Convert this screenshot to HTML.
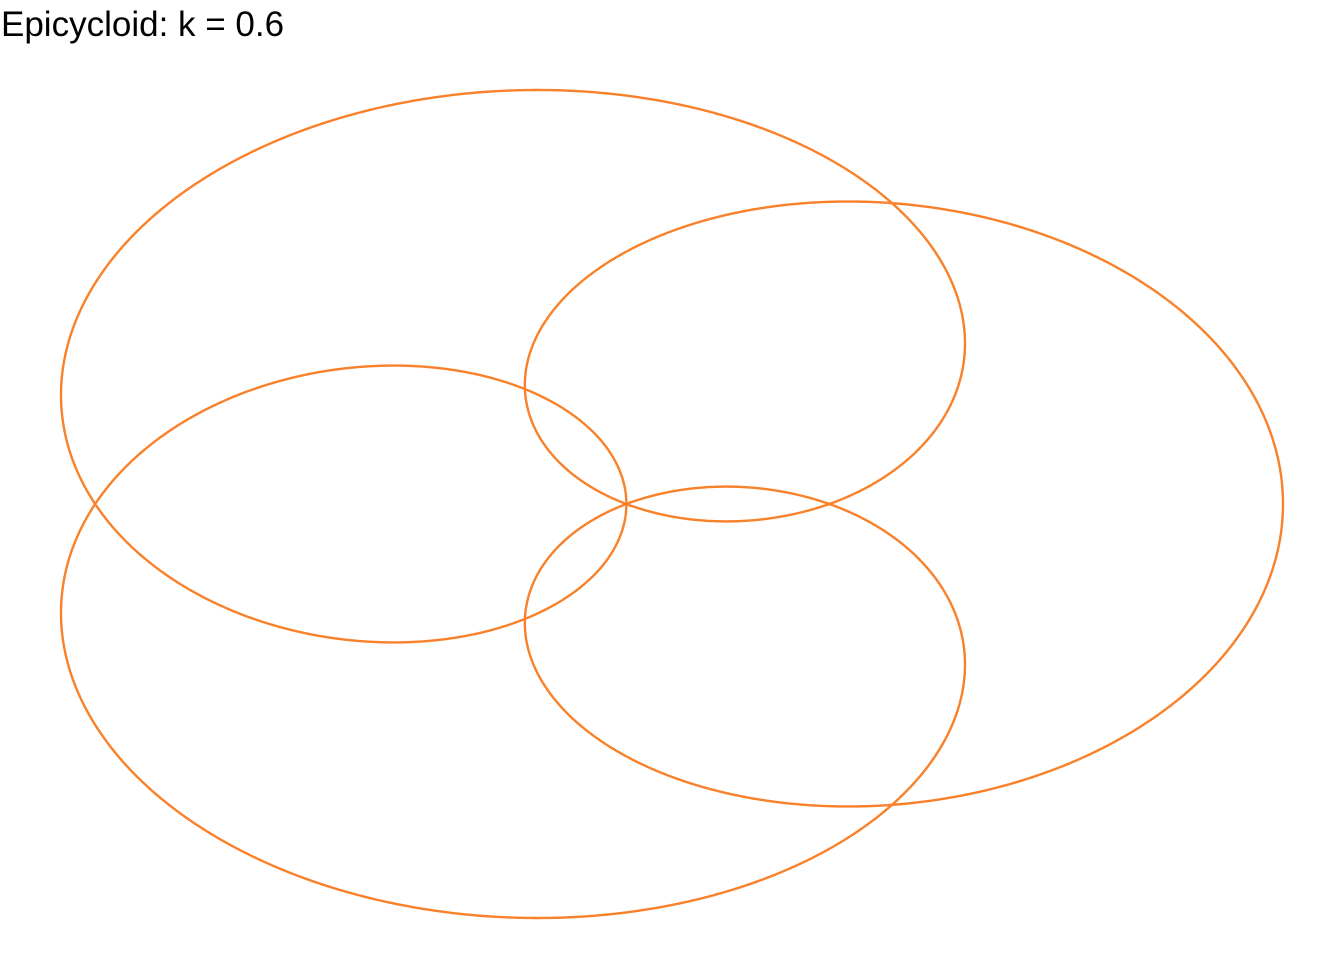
<!DOCTYPE html>
<html><head><meta charset="utf-8">
<style>
html,body{margin:0;padding:0;background:#fff;width:1344px;height:960px;overflow:hidden}
#title{position:absolute;left:1px;top:5px;font-family:"Liberation Sans",sans-serif;font-size:35px;color:#000;line-height:40px;white-space:nowrap}
svg{position:absolute;left:0;top:0}
</style></head>
<body>
<div id="title">Epicycloid: k = 0.6</div>
<svg id="chart" width="1344" height="960">
<path id="curve" fill="none" stroke="#F8812A" stroke-width="2.4" stroke-linejoin="round"></path>
</svg>
<script>
const frequencies = [1, 4];
const amplitudes = [1, -1];
const sampleCounts = [3000];

const N = sampleCounts[0];
const pts = [];
for (let i = 0; i <= N; i++) {
  const t = 2 * Math.PI * i / N;
  let x = 0, y = 0;
  for (let j = 0; j < frequencies.length; j++) {
    x += amplitudes[j] * Math.cos(frequencies[j] * t);
    y += amplitudes[j] * Math.sin(frequencies[j] * t);
  }
  pts.push([-x, y]);
}
let xmin = Infinity, xmax = -Infinity, ymin = Infinity, ymax = -Infinity;
pts.forEach(p => { xmin = Math.min(xmin, p[0]); xmax = Math.max(xmax, p[0]); ymin = Math.min(ymin, p[1]); ymax = Math.max(ymax, p[1]); });
const px0 = 61, px1 = 1283, py0 = 90, py1 = 918;
const sx = v => px0 + (v - xmin) / (xmax - xmin) * (px1 - px0);
const sy = v => py1 - (v - ymin) / (ymax - ymin) * (py1 - py0);
let d = '';
pts.forEach((p, i) => { d += (i ? 'L' : 'M') + sx(p[0]).toFixed(2) + ' ' + sy(p[1]).toFixed(2); });
document.getElementById('curve').setAttribute('d', d + 'Z');
</script>
</body></html>
